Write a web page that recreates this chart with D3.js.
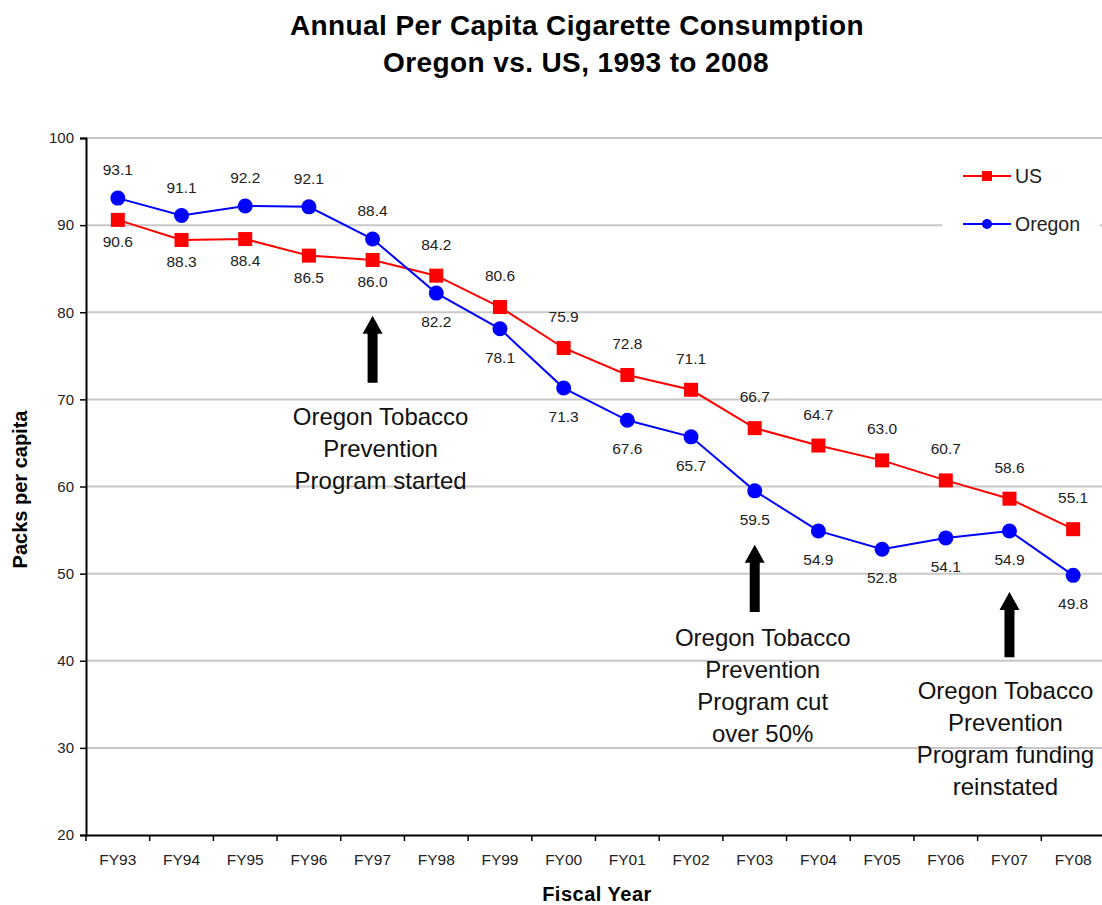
<!DOCTYPE html>
<html>
<head>
<meta charset="utf-8">
<script src="https://cdn.jsdelivr.net/npm/d3@7"></script>
<style>
  body { margin: 0; background: #fff; }
  svg { font-family: "Liberation Sans", Arial, sans-serif; }
</style>
</head>
<body>
<svg id="chart" width="1102" height="905"></svg>
<script>
// chart values
const years = ['FY93','FY94','FY95','FY96','FY97','FY98','FY99','FY00','FY01','FY02','FY03','FY04','FY05','FY06','FY07','FY08'];
const usValues = [90.6, 88.3, 88.4, 86.5, 86.0, 84.2, 80.6, 75.9, 72.8, 71.1, 66.7, 64.7, 63.0, 60.7, 58.6, 55.1];
const oregonValues = [93.1, 91.1, 92.2, 92.1, 88.4, 82.2, 78.1, 71.3, 67.6, 65.7, 59.5, 54.9, 52.8, 54.1, 54.9, 49.8];
const yTicks = [20, 30, 40, 50, 60, 70, 80, 90, 100];

// annotations: arrow at a year, from low to high value
const notes = [
  { year: 'FY97', from: 71.9, to: 79.6, dx: 8, dy: 42, lines: ['Oregon Tobacco', 'Prevention', 'Program started'] },
  { year: 'FY03', from: 45.6, to: 53.3, dx: 8, dy: 34, lines: ['Oregon Tobacco', 'Prevention', 'Program cut', 'over 50%'] },
  { year: 'FY07', from: 40.4, to: 47.9, dx: -4, dy: 42, lines: ['Oregon Tobacco', 'Prevention', 'Program funding', 'reinstated'] }
];

const svg = d3.select('#chart');
const plotLeft = 86, plotRight = 1105, plotTop = 138, plotBottom = 835;

const x = d3.scaleBand().domain(years).range([plotLeft, plotRight]);
const cx = d => x(d) + x.bandwidth() / 2;
const y = d3.scaleLinear().domain([20, 100]).range([plotBottom, plotTop]);

// title
svg.append('text')
  .attr('x', 577).attr('y', 35)
  .attr('text-anchor', 'middle')
  .attr('font-size', 28).attr('font-weight', 'bold')
  .attr('letter-spacing', 0.4)
  .text('Annual Per Capita Cigarette Consumption');
svg.append('text')
  .attr('x', 576).attr('y', 72)
  .attr('text-anchor', 'middle')
  .attr('font-size', 28).attr('font-weight', 'bold')
  .attr('letter-spacing', 0.4)
  .text('Oregon vs. US, 1993 to 2008');

// grid
svg.append('g')
  .selectAll('line')
  .data(yTicks.filter(t => t > 20))
  .enter()
  .append('line')
  .attr('x1', plotLeft).attr('x2', plotRight)
  .attr('y1', d => y(d)).attr('y2', d => y(d))
  .attr('stroke', '#c8c8c8')
  .attr('stroke-width', 2);

// y axis
const yAxis = svg.append('g')
  .attr('transform', `translate(${plotLeft},0)`)
  .call(d3.axisLeft(y).tickValues(yTicks).tickSize(6).tickPadding(6));
yAxis.select('.domain').attr('stroke', '#000').attr('stroke-width', 2);
yAxis.selectAll('.tick line').attr('stroke', '#000').attr('stroke-width', 1.5);
yAxis.selectAll('.tick text')
  .attr('font-size', 15).attr('fill', '#222')
  .attr('font-family', '"Liberation Sans", Arial, sans-serif');

// x axis
const xAxis = svg.append('g')
  .attr('transform', `translate(0,${plotBottom})`)
  .call(d3.axisBottom(x).tickSize(0).tickPadding(19));
xAxis.select('.domain').attr('stroke', '#000').attr('stroke-width', 2);
xAxis.selectAll('.tick text')
  .attr('font-size', 15.5).attr('fill', '#222')
  .attr('font-family', '"Liberation Sans", Arial, sans-serif');

// ticks between the years
svg.append('g')
  .selectAll('line')
  .data(years)
  .enter()
  .append('line')
  .attr('x1', d => x(d)).attr('x2', d => x(d))
  .attr('y1', plotBottom).attr('y2', plotBottom + 6)
  .attr('stroke', '#000')
  .attr('stroke-width', 1.5);

// axis titles
svg.append('text')
  .attr('transform', `translate(27,${(plotTop + plotBottom) / 2 + 3}) rotate(-90)`)
  .attr('text-anchor', 'middle')
  .attr('font-size', 20).attr('font-weight', 'bold')
  .text('Packs per capita');
svg.append('text')
  .attr('x', 597).attr('y', 901)
  .attr('text-anchor', 'middle')
  .attr('font-size', 20).attr('font-weight', 'bold')
  .attr('letter-spacing', 0.5)
  .text('Fiscal Year');

// series lines
const line = d3.line().x((d, i) => cx(years[i])).y(d => y(d));

svg.append('path')
  .datum(usValues)
  .attr('d', line)
  .attr('fill', 'none')
  .attr('stroke', '#ff0000')
  .attr('stroke-width', 2);

svg.append('path')
  .datum(oregonValues)
  .attr('d', line)
  .attr('fill', 'none')
  .attr('stroke', '#0000ff')
  .attr('stroke-width', 2);

// markers
svg.append('g')
  .selectAll('rect')
  .data(usValues)
  .enter()
  .append('rect')
  .attr('x', (d, i) => cx(years[i]) - 7)
  .attr('y', d => y(d) - 7)
  .attr('width', 14).attr('height', 14)
  .attr('fill', '#ff0000');

svg.append('g')
  .selectAll('circle')
  .data(oregonValues)
  .enter()
  .append('circle')
  .attr('cx', (d, i) => cx(years[i]))
  .attr('cy', d => y(d))
  .attr('r', 7.5)
  .attr('fill', '#0000ff');

// data labels: first five years Oregon above / US below, then swapped
svg.append('g')
  .selectAll('text')
  .data(usValues)
  .enter()
  .append('text')
  .attr('x', (d, i) => cx(years[i]))
  .attr('y', (d, i) => y(d) + (i < 5 ? 27 : -26))
  .attr('text-anchor', 'middle')
  .attr('font-size', 15.5).attr('fill', '#222')
  .text(d => d.toFixed(1));

svg.append('g')
  .selectAll('text')
  .data(oregonValues)
  .enter()
  .append('text')
  .attr('x', (d, i) => cx(years[i]))
  .attr('y', (d, i) => y(d) + (i < 5 ? -23 : 34))
  .attr('text-anchor', 'middle')
  .attr('font-size', 15.5).attr('fill', '#222')
  .text(d => d.toFixed(1));

// legend
const legend = svg.append('g');
legend.append('rect')
  .attr('x', 942).attr('y', 150)
  .attr('width', 158).attr('height', 100)
  .attr('fill', '#fff');
const legendItems = [
  { name: 'US', color: '#ff0000', shape: 'square', y: 176 },
  { name: 'Oregon', color: '#0000ff', shape: 'circle', y: 224 }
];
legendItems.forEach(it => {
  legend.append('line')
    .attr('x1', 963).attr('x2', 1011)
    .attr('y1', it.y).attr('y2', it.y)
    .attr('stroke', it.color).attr('stroke-width', 2);
  if (it.shape === 'square') {
    legend.append('rect')
      .attr('x', 982).attr('y', it.y - 5)
      .attr('width', 10).attr('height', 10)
      .attr('fill', it.color);
  } else {
    legend.append('circle')
      .attr('cx', 987).attr('cy', it.y).attr('r', 5)
      .attr('fill', it.color);
  }
  legend.append('text')
    .attr('x', 1015).attr('y', it.y + 7)
    .attr('font-size', 19.5).attr('fill', '#222')
    .text(it.name);
});

// annotation arrows and texts
notes.forEach(n => {
  const ax = cx(n.year);
  const yTop = y(n.to), yBot = y(n.from);
  const head = 18, shaft = 5, wing = 10;
  svg.append('path')
    .attr('d', `M${ax - shaft},${yBot} L${ax - shaft},${yTop + head} L${ax - wing},${yTop + head}
      L${ax},${yTop} L${ax + wing},${yTop + head} L${ax + shaft},${yTop + head} L${ax + shaft},${yBot} Z`)
    .attr('fill', '#000');
  const t = svg.append('text')
    .attr('text-anchor', 'middle')
    .attr('font-size', 24).attr('fill', '#111');
  n.lines.forEach((s, i) => {
    t.append('tspan')
      .attr('x', ax + n.dx)
      .attr('y', yBot + n.dy + i * 32)
      .text(s);
  });
});
</script>
</body>
</html>
